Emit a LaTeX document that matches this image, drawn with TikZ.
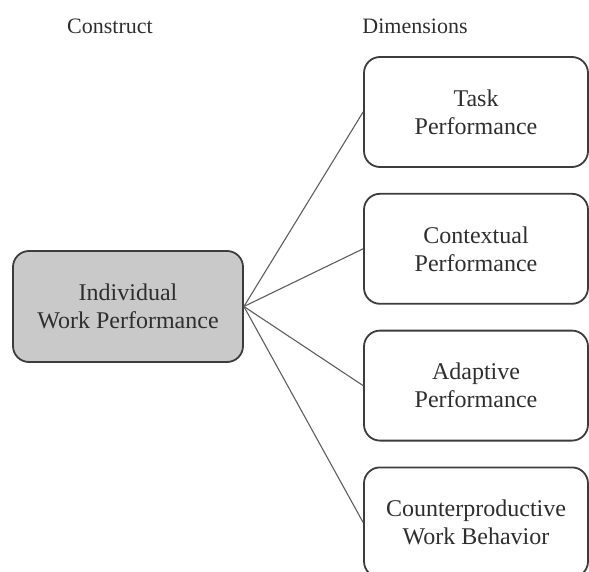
\documentclass[tikz,border=0pt]{standalone}
\usepackage{fontspec}
\setmainfont{Liberation Serif}
\usetikzlibrary{positioning}

\definecolor{boxline}{HTML}{3C3C3C}
\definecolor{cfill}{HTML}{C9C9C9}
\definecolor{txt}{HTML}{2E2E2E}
\definecolor{conn}{HTML}{5E5E5E}

\begin{document}
\begin{tikzpicture}[x=1pt,y=-1pt,node distance=25pt,
  box/.style={draw=boxline,line width=1.8pt,rounded corners=16pt,align=center,
    text=txt,font=\fontsize{24}{28}\selectfont},
  dim/.style={box,minimum width=224pt,minimum height=110pt},
  head/.style={text=txt,font=\fontsize{22}{26}\selectfont}]
  \useasboundingbox (0,0) rectangle (589,572);
  \node[head] (hc) at (110,26)  {Construct};
  \node[head] (hd) at (415,26)  {Dimensions};
  \node[box,fill=cfill,minimum width=230pt,minimum height=111pt] (iwp) at (128,306.5)
    {Individual\\Work Performance};
  \node[dim] (task) at (476,112)   {Task\\Performance};
  \node[dim] (ctx)  [below=of task] {Contextual\\Performance};
  \node[dim] (adapt) [below=of ctx] {Adaptive\\Performance};
  \node[dim] (cwb)  [below=of adapt] {Counterproductive\\Work Behavior};
  \path[draw=conn,line width=1.1pt]
    (iwp.east)
      edge (task.west)
      edge (ctx.west)
      edge (adapt.west)
      edge (cwb.west)
  ;
\end{tikzpicture}
\end{document}
